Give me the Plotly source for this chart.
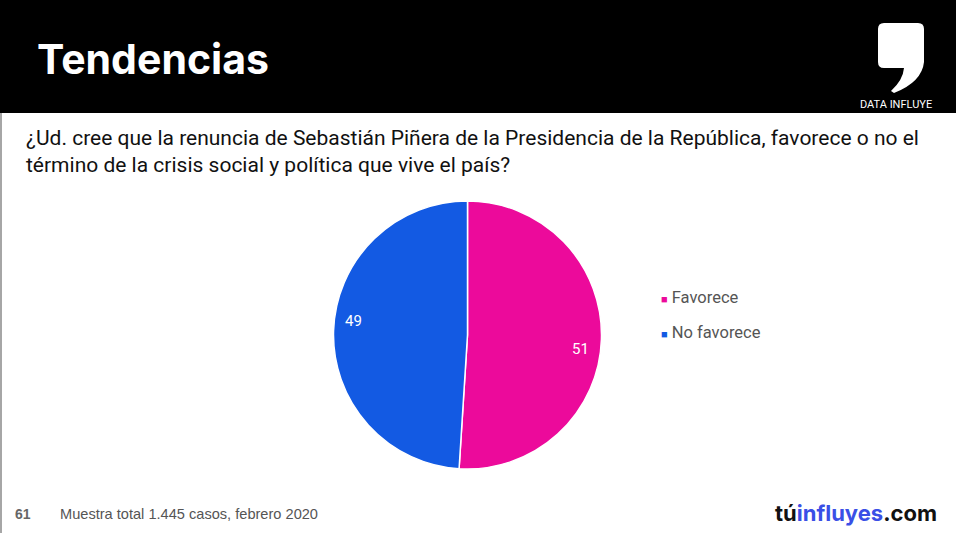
import math
import plotly.graph_objects as go

categories = ["Favorece", "No favorece"]
values = [51, 49]
colors = ["#EC0A9B", "#135AE3"]

title_text = "Tendencias"
question_lines = [
    "¿Ud. cree que la renuncia de Sebastián Piñera de la Presidencia de la República, favorece o no el",
    "término de la crisis social y política que vive el país?",
]
page_number = "61"
footnote = "Muestra total 1.445 casos, febrero 2020"

W, H = 956, 533
cx, cy, R = 467, 335, 134

fig = go.Figure()
fig.add_trace(go.Pie(
    labels=categories, values=values, sort=False, direction="clockwise",
    rotation=0, marker=dict(colors=colors, line=dict(color="white", width=1.5)),
    textinfo="none", hoverinfo="label+value", showlegend=False,
    domain=dict(x=[(cx - R) / W, (cx + R + 1) / W], y=[1 - (cy + R) / H, 1 - (cy - R) / H]),
))

annotations = []
total = sum(values)
start = 0.0
for v in values:
    frac = v / total
    mid = (start + frac / 2) * 360 + 5
    a = math.radians(mid)
    x = cx + 0.855 * R * math.sin(a)
    y = cy - 0.855 * R * math.cos(a)
    annotations.append(dict(x=x, y=y, xref="x", yref="y", text=str(v), showarrow=False,
                            font=dict(family="Roboto", size=15, color="white")))
    start += frac

for i, (c, col) in enumerate(zip(categories, colors)):
    annotations.append(dict(x=659, y=297 + 35 * i, xref="x", yref="y", xanchor="left",
                            text=f"<span style='color:{col};font-size:11px'>■</span> {c}",
                            showarrow=False, font=dict(family="Roboto", size=16.5, color="#555555")))

annotations += [
    dict(x=35, y=59, xref="x", yref="y", xanchor="left", yanchor="middle", text=f"<b>{title_text}</b>",
         showarrow=False, font=dict(family="Inter", size=41, color="white")),
    dict(x=896, y=104, xref="x", yref="y", text="DATA INFLUYE", showarrow=False,
         font=dict(family="Roboto", size=11, color="white")),
    dict(x=24, y=138, xref="x", yref="y", xanchor="left", text=question_lines[0], showarrow=False,
         font=dict(family="Roboto", size=21, color="#111111")),
    dict(x=24, y=165, xref="x", yref="y", xanchor="left", text=question_lines[1], showarrow=False,
         font=dict(family="Roboto", size=21, color="#111111")),
    dict(x=13, y=514, xref="x", yref="y", xanchor="left", text=f"<b>{page_number}</b>", showarrow=False,
         font=dict(family="Liberation Sans", size=14, color="#666666")),
    dict(x=58, y=514, xref="x", yref="y", xanchor="left", text=footnote, showarrow=False,
         font=dict(family="Liberation Sans", size=14.6, color="#555555")),
    dict(x=939, y=513, xref="x", yref="y", xanchor="right",
         text="<b>tú<span style='color:#3A4FE6'>influyes</span>.com</b>", showarrow=False,
         font=dict(family="Inter", size=22, color="#111111")),
]

shapes = [
    dict(type="rect", x0=0, x1=W, y0=0, y1=113, xref="x", yref="y", fillcolor="black", line=dict(width=0), layer="below"),
    dict(type="line", x0=1, x1=1, y0=113, y1=H, xref="x", yref="y", line=dict(color="#888888", width=1.5)),
    dict(type="path", xref="x", yref="y", fillcolor="white", line=dict(width=0),
         path="M 884 23 L 918 23 Q 924 23 924 29 L 924 62 Q 922 82 894 93 L 891 91 Q 903 80 904 68 "
              "L 884 68 Q 878 68 878 62 L 878 29 Q 878 23 884 23 Z"),
]

fig.update_layout(
    width=W, height=H, margin=dict(l=0, r=0, t=0, b=0),
    paper_bgcolor="white", plot_bgcolor="rgba(0,0,0,0)",
    xaxis=dict(range=[0, W], visible=False, fixedrange=True),
    yaxis=dict(range=[H, 0], visible=False, fixedrange=True),
    annotations=annotations, shapes=shapes, showlegend=False,
)
fig.write_html("out.html", config={"displayModeBar": False})

with open("out.html", encoding="utf-8") as f:
    html = f.read()
html = html.replace("<head>", "<head><style>html,body{margin:0;padding:0;overflow:hidden;}</style>", 1)
with open("out.html", "w", encoding="utf-8") as f:
    f.write(html)
